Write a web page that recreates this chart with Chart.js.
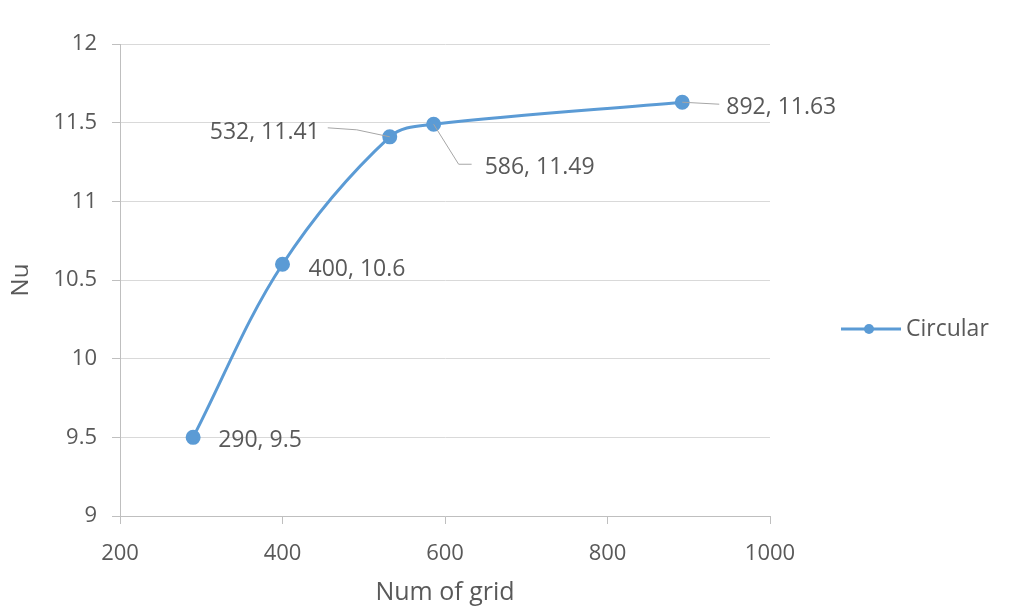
<!DOCTYPE html>
<html>
<head>
<meta charset="utf-8">
<script src="https://cdn.jsdelivr.net/npm/chart.js@4"></script>
<style>
    body { margin: 0; background: #fff; }
    #wrap { width: 1016px; height: 608px; }
</style>
</head>
<body>
<div id="wrap"><canvas id="gridChart" width="1016" height="608"></canvas></div>
<script>
// data
var gridSizes = [290, 400, 532, 586, 892];
var nuValues = [9.5, 10.6, 11.41, 11.49, 11.63];
var seriesName = "Circular";
var xTicks = [200, 400, 600, 800, 1000];
var yTicks = [9, 9.5, 10, 10.5, 11, 11.5, 12];

var blue = '#5b9bd5';
var textGrey = '#595959';
var fontName = "'Open Sans', sans-serif";

// label placement around each point: [dx, dy, align, leader path]
var labelSpots = [
    { dx: 25, dy: 3, align: 'left', leader: null },
    { dx: 26, dy: 5, align: 'left', leader: null },
    { dx: -70, dy: -4, align: 'right', leader: [[-62, -9], [-33, -7], [0, 0]] },
    { dx: 51, dy: 43, align: 'left', leader: [[0, 0], [25, 40], [38, 40]] },
    { dx: 44, dy: 5, align: 'left', leader: [[0, 0], [37, 2]] }
];

var points = gridSizes.map(function(g, i) {
    return { x: g, y: nuValues[i] };
});

// data labels with leader lines
var pointLabels = {
    id: 'pointLabels',
    afterDatasetsDraw: function(chart) {
        var ctx = chart.ctx;
        var meta = chart.getDatasetMeta(0);
        ctx.save();
        ctx.font = '23px ' + fontName;
        ctx.textBaseline = 'middle';
        meta.data.forEach(function(pt, i) {
            var s = labelSpots[i];
            if (s.leader) {
                ctx.beginPath();
                ctx.strokeStyle = '#a6a6a6';
                ctx.lineWidth = 1;
                s.leader.forEach(function(p, k) {
                    if (k == 0) ctx.moveTo(pt.x + p[0], pt.y + p[1]);
                    else ctx.lineTo(pt.x + p[0], pt.y + p[1]);
                });
                ctx.stroke();
            }
            ctx.fillStyle = textGrey;
            ctx.textAlign = s.align;
            ctx.fillText(gridSizes[i] + ', ' + nuValues[i], pt.x + s.dx, pt.y + s.dy);
        });
        ctx.restore();
    }
};

// legend on the right, drawn by hand
var sideLegend = {
    id: 'sideLegend',
    afterDraw: function(chart) {
        var ctx = chart.ctx;
        var ds = chart.data.datasets[0];
        var y = 329;
        ctx.save();
        ctx.strokeStyle = ds.borderColor;
        ctx.lineWidth = 3;
        ctx.beginPath();
        ctx.moveTo(841, y);
        ctx.lineTo(901, y);
        ctx.stroke();
        ctx.fillStyle = ds.pointBackgroundColor;
        ctx.beginPath();
        ctx.arc(869, y, 5, 0, Math.PI * 2);
        ctx.fill();
        ctx.fillStyle = textGrey;
        ctx.font = '23px ' + fontName;
        ctx.textBaseline = 'middle';
        ctx.fillText(ds.label, 906, y);
        ctx.restore();
    }
};

function plainTick(v) {
    return String(v);
}

var ctx = document.getElementById('gridChart');
var gridChart = new Chart(ctx, {
    type: 'line',
    data: {
        datasets: [{
            label: seriesName,
            data: points,
            borderColor: blue,
            backgroundColor: blue,
            pointBackgroundColor: blue,
            pointBorderColor: blue,
            borderWidth: 3,
            pointRadius: 6,
            tension: 0.35,
            fill: false
        }]
    },
    options: {
        responsive: false,
        animation: false,
        layout: { padding: { top: 44, right: 246, bottom: 0, left: 0 } },
        plugins: {
            legend: { display: false },
            tooltip: { enabled: false }
        },
        scales: {
            x: {
                type: 'linear',
                min: xTicks[0],
                max: xTicks[xTicks.length - 1],
                afterBuildTicks: function(axis) {
                    axis.ticks = xTicks.map(function(v) { return { value: v }; });
                },
                afterFit: function(axis) { axis.height = 92; },
                grid: { drawOnChartArea: false, tickLength: 8, color: '#bfbfbf' },
                border: { color: '#bfbfbf' },
                ticks: { color: textGrey, font: { family: fontName, size: 22 }, padding: 17, maxRotation: 0, callback: plainTick },
                title: {
                    display: true,
                    text: 'Num of grid',
                    color: textGrey,
                    font: { family: fontName, size: 25 },
                    padding: { top: 0, bottom: 0 }
                }
            },
            y: {
                min: yTicks[0],
                max: yTicks[yTicks.length - 1],
                afterBuildTicks: function(axis) {
                    axis.ticks = yTicks.map(function(v) { return { value: v }; });
                },
                afterFit: function(axis) { axis.width = 120; },
                grid: { color: '#d9d9d9', tickColor: '#bfbfbf', tickLength: 8 },
                border: { color: '#bfbfbf' },
                ticks: { color: textGrey, font: { family: fontName, size: 22 }, padding: 15, callback: plainTick },
                title: {
                    display: true,
                    text: 'Nu',
                    color: textGrey,
                    font: { family: fontName, size: 24 },
                    padding: { top: 7, bottom: 0 }
                }
            }
        }
    },
    plugins: [pointLabels, sideLegend]
});
</script>
</body>
</html>
